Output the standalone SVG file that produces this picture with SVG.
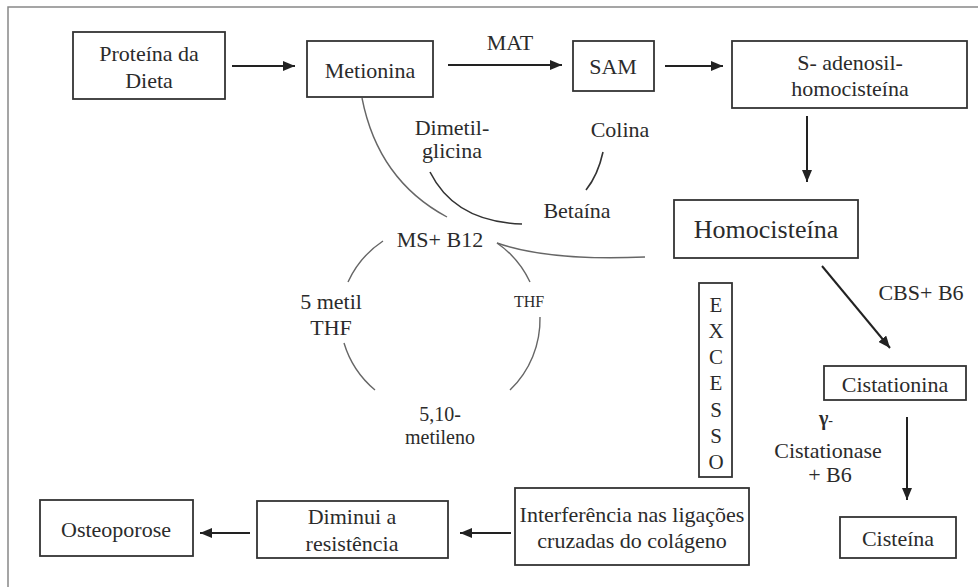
<svg xmlns="http://www.w3.org/2000/svg" width="978" height="587" viewBox="0 0 978 587">
<style>
text{font-family:"Liberation Serif","Times New Roman",serif;font-size:22px;fill:#2b2b2b;text-anchor:middle}
.box{fill:#fff;stroke:#333;stroke-width:1.8}
.arr{stroke:#222;stroke-width:2;fill:none;marker-end:url(#ah)}
.cur{stroke:#666;stroke-width:1.4;fill:none}
.dark{stroke:#333;stroke-width:1.6;fill:none}
.frame{stroke:#888;stroke-width:1.5;fill:none}
</style>
<defs>
<marker id="ah" viewBox="0 0 12 10" refX="12" refY="5" markerWidth="12" markerHeight="10" markerUnits="userSpaceOnUse" orient="auto">
<path d="M0,0 L12,5 L0,10 Z" fill="#222"/>
</marker>
</defs>
<rect width="978" height="587" fill="#fff"/>
<path class="frame" d="M8,587 L8,7 L978,7"/>

<g id="connectors">
<line class="arr" x1="232" y1="66" x2="295" y2="66"/>
<line class="arr" x1="448" y1="65" x2="562" y2="65"/>
<line class="arr" x1="665" y1="66" x2="723" y2="66"/>
<line class="arr" x1="807" y1="116" x2="807" y2="182"/>
<line class="arr" x1="822" y1="266" x2="890" y2="348"/>
<line class="arr" x1="907" y1="417" x2="907" y2="500"/>
<line class="arr" x1="250" y1="533" x2="200" y2="533"/>
<line class="arr" x1="511" y1="533" x2="460" y2="533"/>
<path class="cur" d="M362,98 Q378,180 447,217"/>
<path class="dark" d="M430,172 Q455,222 522,224"/>
<path class="dark" d="M603,152 Q598,175 586,190"/>
<path class="cur" d="M645,257 C600,259 540,258 497,243"/>
<path class="cur" d="M383,241 A98,98 0 0 0 348,282"/>
<path class="cur" d="M497,243 A98,98 0 0 1 530,282"/>
<path class="cur" d="M344,343 A98,98 0 0 0 375,390"/>
<path class="cur" d="M540,317 A98,98 0 0 1 510,390"/>
</g>

<g id="proteina">
<rect class="box" x="73" y="32" width="152" height="67"/>
<text x="149" y="61">Proteína da</text>
<text x="149" y="88">Dieta</text>
</g>
<g id="metionina">
<rect class="box" x="307" y="41" width="126" height="56"/>
<text x="370" y="78">Metionina</text>
</g>
<g id="mat"><text x="510" y="50">MAT</text></g>
<g id="sam">
<rect class="box" x="573" y="41" width="81" height="50"/>
<text x="613" y="74">SAM</text>
</g>
<g id="sadenosil">
<rect class="box" x="732" y="41" width="235" height="67"/>
<text x="850" y="70">S- adenosil-</text>
<text x="850" y="96">homocisteína</text>
</g>
<g id="homocisteina">
<rect class="box" x="674" y="200" width="184" height="58"/>
<text x="766" y="238" style="font-size:26px">Homocisteína</text>
</g>
<g id="dimetil">
<text x="452" y="135">Dimetil-</text>
<text x="452" y="158">glicina</text>
</g>
<g id="colina"><text x="620" y="137">Colina</text></g>
<g id="betaina"><text x="577" y="218">Betaína</text></g>
<g id="msb12"><text x="440" y="247">MS+ B12</text></g>
<g id="metilthf">
<text x="331" y="309">5 metil</text>
<text x="331" y="335">THF</text>
</g>
<g id="thf"><text x="529" y="307" style="font-size:16px">THF</text></g>
<g id="metileno">
<text x="440" y="421" style="font-size:20px">5,10-</text>
<text x="440" y="444" style="font-size:20px">metileno</text>
</g>
<g id="excesso">
<rect class="box" x="699" y="283" width="33" height="194"/>
<text x="716" y="312" style="font-size:21px">E</text>
<text x="716" y="338" style="font-size:21px">X</text>
<text x="716" y="364" style="font-size:21px">C</text>
<text x="716" y="390" style="font-size:21px">E</text>
<text x="716" y="417" style="font-size:21px">S</text>
<text x="716" y="443" style="font-size:21px">S</text>
<text x="716" y="469" style="font-size:21px">O</text>
</g>
<g id="cbs"><text x="921" y="300">CBS+ B6</text></g>
<g id="cistationina">
<rect class="box" x="824" y="366" width="142" height="34"/>
<text x="895" y="392">Cistationina</text>
</g>
<g id="cistationase">
<text x="819" y="425" style="text-anchor:start;font-weight:bold;font-size:20px">γ<tspan style="font-weight:normal;font-size:14px">-</tspan></text>
<text x="828" y="458">Cistationase</text>
<text x="830" y="482">+ B6</text>
</g>
<g id="cisteina">
<rect class="box" x="840" y="517" width="116" height="41"/>
<text x="898" y="546">Cisteína</text>
</g>
<g id="interferencia">
<rect class="box" x="515" y="488" width="234" height="77"/>
<text x="632" y="522">Interferência nas ligações</text>
<text x="632" y="548">cruzadas do colágeno</text>
</g>
<g id="diminui">
<rect class="box" x="257" y="501" width="191" height="57"/>
<text x="352" y="524">Diminui a</text>
<text x="352" y="551">resistência</text>
</g>
<g id="osteoporose">
<rect class="box" x="40" y="500" width="153" height="56"/>
<text x="116" y="537">Osteoporose</text>
</g>
</svg>
